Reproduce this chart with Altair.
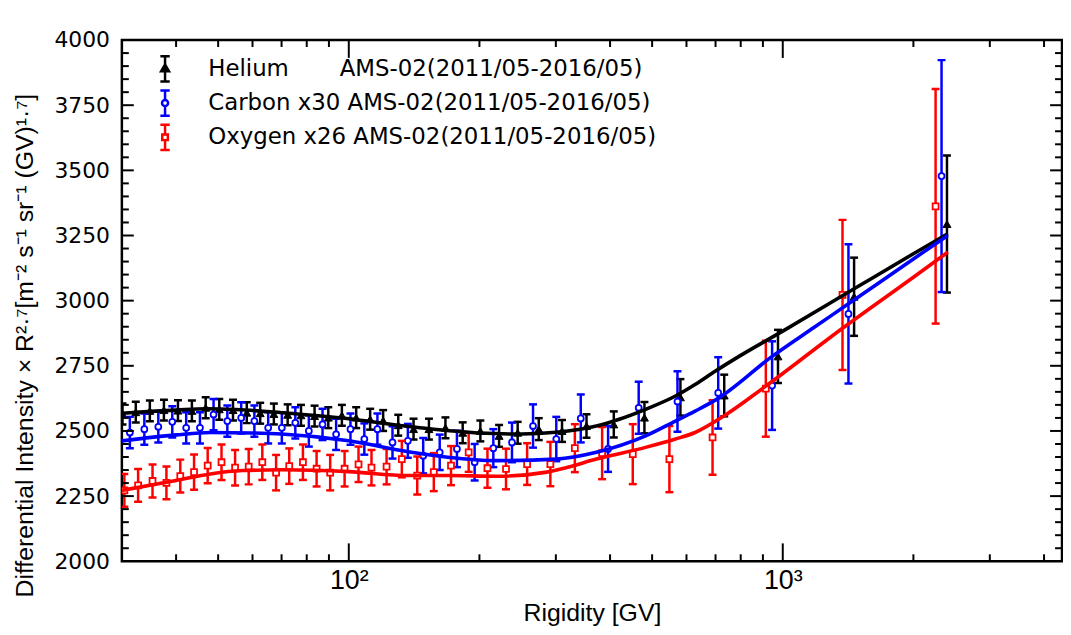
import altair as alt
import pandas as pd

# ---------------- data ----------------
HE_LABEL = "Helium" + "\u00a0" * 7 + "AMS-02(2011/05-2016/05)"
C_LABEL = "Carbon x30 AMS-02(2011/05-2016/05)"
O_LABEL = "Oxygen x26 AMS-02(2011/05-2016/05)"
labels = [HE_LABEL, C_LABEL, O_LABEL]
colors = ["#000000", "#0000ff", "#ff0000"]

# Helium (black triangles)
he_R = [30.1, 32.3, 34.8, 37.5, 40.4, 43.5, 46.8, 50.3, 54.1, 58.2, 62.5, 67.2, 72.3,
        77.6, 83.4, 89.7, 96.4, 104, 112, 120, 130, 141, 153, 167, 183, 201, 222, 245,
        274, 310, 353, 408, 480, 581, 733, 975, 1460, 2390]
he_val = [2565, 2572, 2577, 2580, 2578, 2577, 2589, 2583, 2580, 2570, 2568, 2565, 2562,
          2560, 2557, 2551, 2560, 2551, 2545, 2540, 2522, 2507, 2507, 2512, 2493, 2500,
          2481, 2493, 2507, 2500, 2519, 2525, 2551, 2629, 2636, 2786, 3015, 3294]
he_err = [40, 40, 40, 40, 40, 40, 40, 40, 40, 40, 40, 40, 40, 40, 40, 40, 40, 40, 40,
          40, 40, 40, 40, 40, 40, 40, 42, 42, 42, 42, 45, 50, 60, 70, 80, 102, 150, 263]

# Carbon x30 (blue open circles)
c_R = [31.3, 33.8, 36.4, 39.2, 42.2, 45.4, 48.8, 52.5, 56.5, 60.6, 65.2, 70.1, 75.3,
       80.9, 87.0, 93.5, 100.9, 108.6, 116.4, 126.1, 136.8, 148.4, 162.0, 177.5, 195.0,
       215.3, 237.7, 265.8, 300.7, 342.4, 395.8, 465.6, 572, 710, 945, 1417, 2322]
c_val = [2494, 2507, 2516, 2535, 2512, 2512, 2563, 2538, 2550, 2538, 2512, 2512, 2531,
         2500, 2525, 2487, 2507, 2469, 2507, 2456, 2462, 2405, 2418, 2431, 2380, 2434,
         2456, 2519, 2469, 2548, 2431, 2589, 2613, 2646, 2674, 2949, 3478]
c_err = [60, 60, 60, 60, 60, 60, 60, 60, 60, 60, 60, 60, 60, 60, 60, 60, 60, 60, 60,
         62, 65, 68, 68, 70, 70, 73, 76, 83, 85, 92, 88, 100, 116, 137, 170, 267, 445]

# Oxygen x26 (red open squares)
o_R = [30.4, 32.7, 35.3, 38.0, 40.9, 44.0, 47.3, 50.9, 54.7, 58.8, 63.2, 68.0, 72.9,
       78.4, 84.3, 90.6, 97.8, 105.3, 112.8, 122.2, 132.5, 143.8, 157.0, 172.0, 188.9,
       208.7, 230.3, 257.6, 291.4, 331.8, 383.5, 451.2, 548, 689, 914, 1373, 2250]
o_val = [2272, 2291, 2308, 2301, 2327, 2342, 2367, 2380, 2359, 2363, 2380, 2340, 2365,
         2380, 2355, 2340, 2355, 2372, 2359, 2363, 2392, 2329, 2342, 2367, 2418, 2357,
         2354, 2373, 2373, 2434, 2415, 2411, 2392, 2475, 2662, 3022, 3362]
o_err = [63, 63, 63, 63, 63, 68, 68, 68, 68, 68, 68, 68, 68, 68, 68, 68, 68, 68, 68,
         68, 70, 73, 73, 75, 75, 75, 78, 80, 85, 92, 100, 115, 127, 143, 184, 288, 450]

# model curves
he_line_R = [30, 35, 40, 47, 55, 70, 100, 130, 150, 200, 250, 300, 372, 420, 483, 566,
             628, 700, 800, 1000, 1500, 2000, 2400]
he_line_val = [2568, 2575, 2580, 2585, 2582, 2570, 2547, 2522, 2510, 2492, 2488, 2495,
               2519, 2545, 2583, 2634, 2678, 2730, 2790, 2883, 3057, 3180, 3257]
c_line_R = [30, 40, 48, 60, 70, 100, 137, 169, 219, 301, 372, 483, 566, 628, 710, 945,
            1182, 1409, 2000, 2400]
c_line_val = [2462, 2485, 2494, 2492, 2488, 2462, 2420, 2399, 2386, 2392, 2418, 2481,
              2538, 2576, 2625, 2786, 2898, 2985, 3160, 3250]
o_line_R = [30, 40, 48, 57, 70, 100, 137, 169, 219, 286, 318, 372, 483, 566, 628, 742,
            914, 1373, 2000, 2400]
o_line_val = [2272, 2310, 2335, 2348, 2351, 2344, 2329, 2329, 2326, 2342, 2360, 2392,
              2437, 2469, 2494, 2564, 2672, 2894, 3090, 3186]

# axis ticks
x_label_ticks = [100, 1000]
x_minor_ticks = [40, 50, 60, 70, 80, 90, 200, 300, 400, 500, 600, 700, 800, 900,
                 2000, 3000, 4000]
y_label_ticks = [2000, 2250, 2500, 2750, 3000, 3250, 3500, 3750, 4000]
y_major_ticks = [2250, 2500, 2750, 3000, 3250, 3500, 3750]
y_minor_ticks = [2050, 2100, 2150, 2200, 2300, 2350, 2400, 2450, 2550, 2600, 2650, 2700,
                 2800, 2850, 2900, 2950, 3050, 3100, 3150, 3200, 3300, 3350, 3400, 3450,
                 3550, 3600, 3650, 3700, 3800, 3850, 3900, 3950]

W, H = 947, 525

# ---------------- encodings ----------------
xscale = alt.Scale(type="log", domain=[30, 4400], nice=False)
yscale = alt.Scale(domain=[2000, 4000], nice=False, zero=False)

xaxis = alt.Axis(
    title="Rigidity [GV]", values=x_label_ticks,
    labelExpr="datum.value == 100 ? '10²' : '10³'",
    ticks=False, tickSize=0, domain=False, grid=False,
    labelFont="Liberation Sans", labelFontSize=27, labelPadding=6, labelColor="black",
    titleFont="Liberation Sans", titleFontSize=25, titleFontWeight="normal",
    titleColor="black", titleBaseline="alphabetic", titleX=W / 2, titleY=60,
)
yaxis = alt.Axis(
    title="Differential Intensity  \u00d7 R\u00b2\u00b7\u2077[m\u207b\u00b2 s\u207b\u00b9 sr\u207b\u00b9 (GV)\u00b9\u00b7\u2077]",
    values=y_label_ticks, format="d", ticks=False, tickSize=0, domain=False, grid=False,
    labelFont="DejaVu Sans", labelFontSize=22, labelPadding=12.5, labelColor="black",
    titleFont="Liberation Sans", titleFontSize=25, titleFontWeight="normal",
    titleColor="black", titleAngle=270, titleBaseline="alphabetic",
    titleAlign="left", titleX=-90.5, titleY=561,
)


def X(field="R"):
    return alt.X(f"{field}:Q", scale=xscale, axis=xaxis)


def Y(field="val"):
    return alt.Y(f"{field}:Q", scale=yscale, axis=yaxis)


def series_df(R, val, err):
    return pd.DataFrame({
        "R": R, "val": val,
        "lo": [v - e for v, e in zip(val, err)],
        "hi": [v + e for v, e in zip(val, err)],
    })


CAP = "M-1,0L1,0"


def series_layers(df, color, shape, filled):
    bars = alt.Chart(df).mark_rule(color=color, strokeWidth=2.5, clip=True).encode(
        x=X(), y=Y("lo"), y2="hi:Q")
    caps = alt.Chart(df).transform_fold(["lo", "hi"], as_=["k", "cap"]).mark_point(
        shape=CAP, size=64, filled=False, stroke=color, strokeWidth=2.5, opacity=1,
        clip=True).encode(x=X(), y=Y("cap"))
    if filled:
        pts = alt.Chart(df).mark_point(shape=shape, size=64, filled=True, fill=color,
                                       stroke=color, strokeWidth=1, opacity=1, clip=True)
    else:
        pts = alt.Chart(df).mark_point(shape=shape, size=36, filled=True, fill="white",
                                       stroke=color, strokeWidth=1.8, opacity=1, clip=True)
    pts = pts.encode(x=X(), y=Y())
    return [bars, caps, pts]


def line_layer(R, val, color):
    df = pd.DataFrame({"R": R, "val": val})
    return alt.Chart(df).mark_line(color=color, strokeWidth=3.6, interpolate="monotone",
                                   clip=True).encode(x=X(), y=Y())


layers = []
layers += series_layers(series_df(he_R, he_val, he_err), colors[0], "triangle-up", True)
layers += series_layers(series_df(c_R, c_val, c_err), colors[1], "circle", False)
layers += series_layers(series_df(o_R, o_val, o_err), colors[2], "square", False)
layers.append(line_layer(he_line_R, he_line_val, colors[0]))
layers.append(line_layer(c_line_R, c_line_val, colors[1]))
layers.append(line_layer(o_line_R, o_line_val, colors[2]))

# inward ticks on all four sides
xmaj = pd.DataFrame({"R": x_label_ticks})
xmin = pd.DataFrame({"R": x_minor_ticks})
ymaj = pd.DataFrame({"val": y_major_ticks})
ymin = pd.DataFrame({"val": y_minor_ticks})
TK = dict(color="black", strokeWidth=2)
MAJ, MIN = 18, 7
layers += [
    alt.Chart(xmaj).mark_rule(**TK).encode(x=X(), y=alt.value(H), y2=alt.value(H - MAJ)),
    alt.Chart(xmaj).mark_rule(**TK).encode(x=X(), y=alt.value(0), y2=alt.value(MAJ)),
    alt.Chart(xmin).mark_rule(**TK).encode(x=X(), y=alt.value(H), y2=alt.value(H - MIN)),
    alt.Chart(xmin).mark_rule(**TK).encode(x=X(), y=alt.value(0), y2=alt.value(MIN)),
    alt.Chart(ymaj).mark_rule(**TK).encode(y=Y(), x=alt.value(0), x2=alt.value(12)),
    alt.Chart(ymaj).mark_rule(**TK).encode(y=Y(), x=alt.value(W), x2=alt.value(W - 12)),
    alt.Chart(ymin).mark_rule(**TK).encode(y=Y(), x=alt.value(0), x2=alt.value(MIN)),
    alt.Chart(ymin).mark_rule(**TK).encode(y=Y(), x=alt.value(W), x2=alt.value(W - MIN)),
]

# legend (error-bar style symbols)
leg_paths = [
    "M0,-1V1M-0.37,-1H0.37M-0.37,1H0.37M-0.31,0.2L0.31,0.2L0,-0.34Z",
    "M0,-1V-0.24M0,0.24V1M-0.37,-1H0.37M-0.37,1H0.37M0.24,0A0.24,0.24,0,1,1,-0.24,0A0.24,0.24,0,1,1,0.24,0Z",
    "M0,-1V-0.22M0,0.22V1M-0.37,-1H0.37M-0.37,1H0.37M-0.22,-0.22H0.22V0.22H-0.22Z",
]
LEG = alt.Legend(
    title=None, orient="none", legendX=29.5, legendY=15, padding=0,
    symbolSize=650, symbolStrokeWidth=2.5, symbolOpacity=1,
    labelFont="DejaVu Sans", labelFontSize=23, labelColor="black", labelLimit=1000,
    labelOffset=29.5, rowPadding=-1.5,
)
leg_df = pd.DataFrame({"s": labels, "R": [100, 100, 100], "val": [3000, 3000, 3000]})
legend_layer = alt.Chart(leg_df).transform_filter("false").mark_point(
    filled=False, opacity=1, strokeWidth=2.5).encode(
    x=X(), y=Y(),
    stroke=alt.Stroke("s:N", scale=alt.Scale(domain=labels, range=colors), legend=LEG),
    fill=alt.Fill("s:N", scale=alt.Scale(domain=labels, range=["#000000", "#ffffff", "#ffffff"]), legend=LEG),
    shape=alt.Shape("s:N", scale=alt.Scale(domain=labels, range=leg_paths), legend=LEG),
)
layers.append(legend_layer)

chart = alt.layer(*layers).properties(
    width=W, height=H, autosize="none",
    padding={"left": 114.7, "top": 30, "right": 1, "bottom": 72},
    background="white",
).configure_view(stroke="black", strokeWidth=2.5)

chart.save("out.html", embed_options={"renderer": "svg", "actions": False})
